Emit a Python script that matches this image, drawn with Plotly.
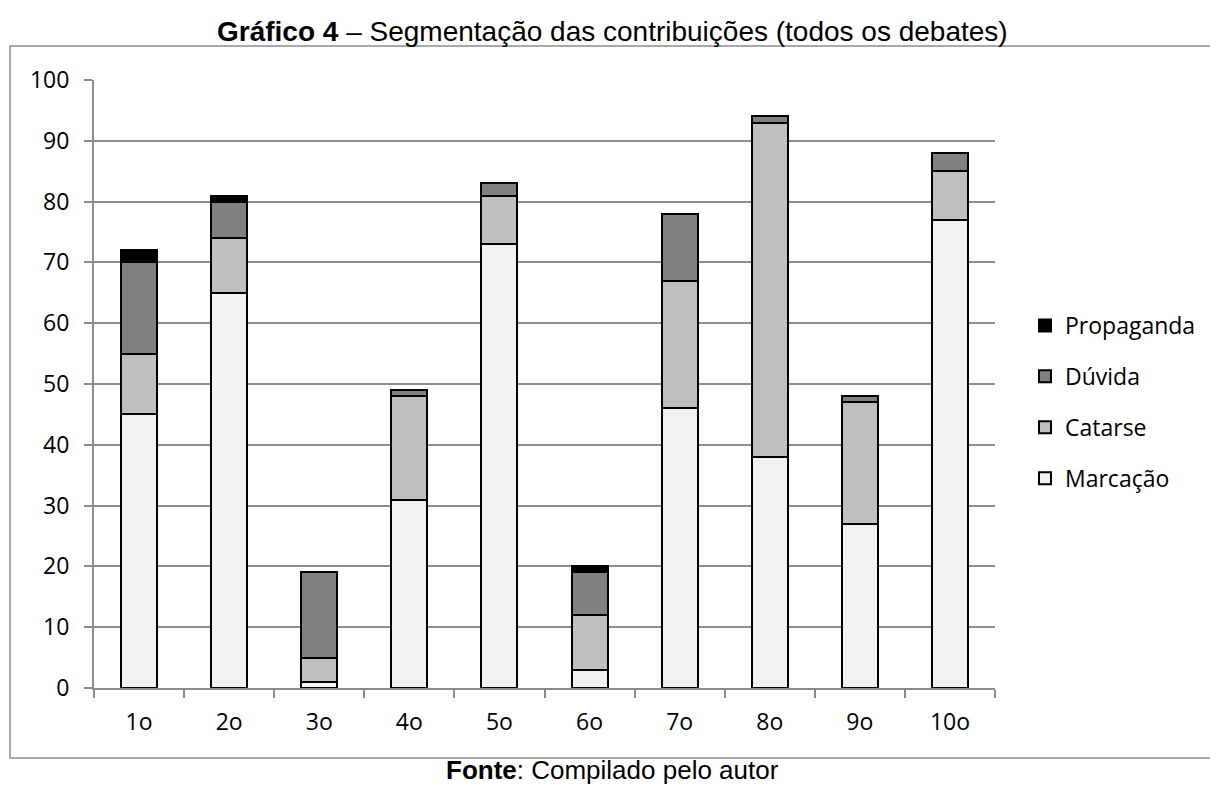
import plotly.graph_objects as go

categories = ["1o", "2o", "3o", "4o", "5o", "6o", "7o", "8o", "9o", "10o"]
marcacao = [45, 65, 1, 31, 73, 3, 46, 38, 27, 77]
catarse = [10, 9, 4, 17, 8, 9, 21, 55, 20, 8]
duvida = [15, 6, 14, 1, 2, 7, 11, 1, 1, 3]
propaganda = [2, 1, 0, 0, 0, 1, 0, 0, 0, 0]

series = [
    ("Marcação", marcacao, "#f2f2f2", 4),
    ("Catarse", catarse, "#bfbfbf", 3),
    ("Dúvida", duvida, "#808080", 2),
    ("Propaganda", propaganda, "#000000", 1),
]

fig = go.Figure()
for name, vals, color, rank in series:
    fig.add_trace(go.Bar(
        x=categories, y=vals, name=name, legendgroup=name, legendrank=rank,
        marker=dict(color=color, line=dict(color="#000000", width=2)),
        width=0.4,
    ))

# page has an 8px body margin; the figure starts at (8, 8) on the page
OFF = 8
W, H = 1218 - OFF, 787 - OFF
# plot area in page pixels
PX0, PX1, PY0, PY1 = 94, 995, 80, 688
ml = PX0 - OFF
mt = PY0 - OFF
mr = W - (PX1 - OFF)
mb = H - (PY1 - OFF)
pw = PX1 - PX0
ph = PY1 - PY0

def px_x(p):
    return (p - PX0) / pw

def px_y(p):
    return (PY1 - p) / ph

fig.update_layout(
    width=W, height=H,
    margin=dict(l=ml, r=mr, t=mt, b=mb),
    barmode="stack",
    bargap=0.6,
    plot_bgcolor="white",
    paper_bgcolor="white",
    font=dict(family="Open Sans, Liberation Sans, sans-serif", size=23, color="#000000"),
    showlegend=True,
    legend=dict(
        x=px_x(1025), y=px_y(402), xanchor="left", yanchor="middle",
        traceorder="grouped", tracegroupgap=18,
        font=dict(size=23),
        bgcolor="rgba(0,0,0,0)",
    ),
    xaxis=dict(
        type="category",
        tickson="boundaries",
        ticks="outside", ticklen=8, tickcolor="#8c8c8c", tickwidth=2,
        showline=True, linecolor="#8c8c8c", linewidth=2,
        showgrid=False,
        tickfont=dict(size=23),
        ticklabelstandoff=12,
    ),
    yaxis=dict(
        range=[0, 100], dtick=10,
        ticks="outside", ticklen=8, tickcolor="#8c8c8c", tickwidth=2,
        showline=True, linecolor="#8c8c8c", linewidth=2,
        showgrid=True, gridcolor="#8c8c8c", gridwidth=2,
        zeroline=False,
        tickfont=dict(size=23),
        ticklabelstandoff=10,
    ),
    shapes=[dict(
        type="rect", xref="paper", yref="paper",
        x0=px_x(10), x1=px_x(1240), y0=px_y(758), y1=px_y(46),
        line=dict(color="#8c8c8c", width=1.5), fillcolor="rgba(0,0,0,0)", layer="below",
    )],
    annotations=[
        dict(
            text="<b>Gráfico 4</b> – Segmentação das contribuições (todos os debates)",
            xref="paper", yref="paper", x=px_x(612), y=px_y(32),
            xanchor="center", yanchor="middle", showarrow=False,
            font=dict(family="Liberation Sans, Arial, sans-serif", size=28, color="#000000"),
        ),
        dict(
            text="<b>Fonte</b>: Compilado pelo autor",
            xref="paper", yref="paper", x=px_x(612), y=px_y(770),
            xanchor="center", yanchor="middle", showarrow=False,
            font=dict(family="Liberation Sans, Arial, sans-serif", size=26, color="#000000"),
        ),
    ],
)

fig.write_html("out.html")
